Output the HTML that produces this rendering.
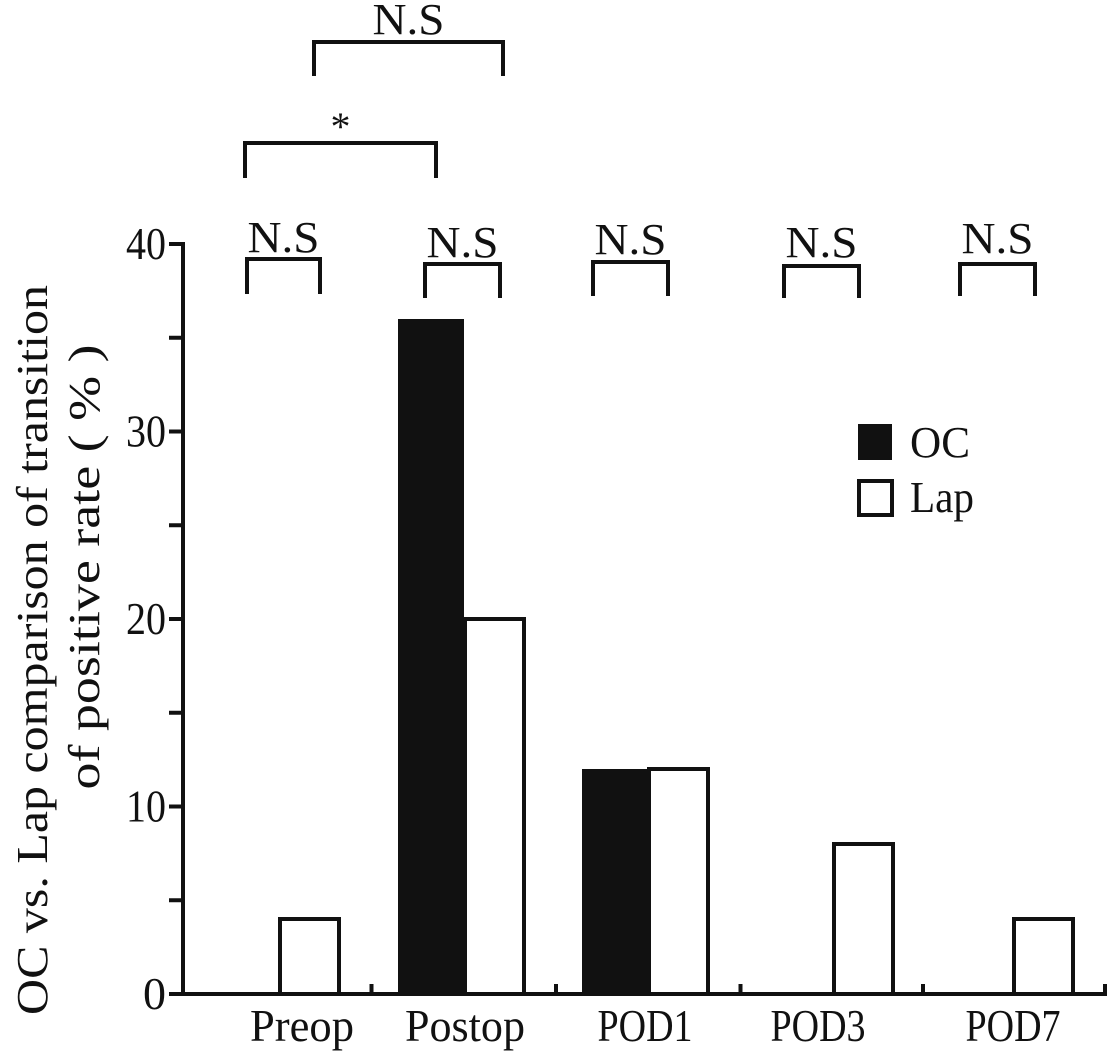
<!DOCTYPE html>
<html><head><meta charset="utf-8"><style>
html,body{margin:0;padding:0;background:#fff;}
svg{display:block;}
text{font-family:"Liberation Serif",serif;fill:#111;}
</style></head><body>
<svg id="chart" width="1110" height="1064" viewBox="0 0 1110 1064">
<g id="axes"></g>
<g id="bars"></g>
<g id="sig"></g>
<g>
<text transform="translate(47,650) rotate(-90)" text-anchor="middle" font-size="44" textLength="730" lengthAdjust="spacingAndGlyphs">OC vs. Lap comparison of transition</text>
<text transform="translate(99,567) rotate(-90)" text-anchor="middle" font-size="44" textLength="445" lengthAdjust="spacingAndGlyphs">of positive rate ( % )</text>
</g>
<g>
<rect x="858" y="424" width="34" height="36" fill="#111"/>
<text x="910" y="457" font-size="44" textLength="60" lengthAdjust="spacingAndGlyphs">OC</text>
<rect x="859" y="481" width="33" height="34" fill="#fff" stroke="#111" stroke-width="4"/>
<text x="910" y="512" font-size="44" textLength="64" lengthAdjust="spacingAndGlyphs">Lap</text>
</g>
</svg>
<script>
const categories = ["Preop","Postop","POD1","POD3","POD7"];
const ocValues = [0,36,12,0,0];
const lapValues = [4,20,12,8,4];
const yTicks = [0,10,20,30,40];
const yMinorTicks = [5,15,25,35];

const NS='http://www.w3.org/2000/svg';
const x0=183, xEnd=1105, yBase=994, yTop=244, yMax=40;
const centers=[279,464,648,833,1013];
const labelOffsets=[23,1,-3,-15,0];
const labelWidths=[104,120,95,95,95];
function y(v){return yBase-(v/yMax)*(yBase-yTop);}
function xc(i){return centers[i];}
function mk(tag,attrs,parent){const e=document.createElementNS(NS,tag);for(const k in attrs)e.setAttribute(k,attrs[k]);parent.appendChild(e);return e;}
const axes=document.getElementById('axes'), bars=document.getElementById('bars'), sig=document.getElementById('sig');

let e=mk('line',{x1:x0,y1:yTop-2,x2:x0,y2:yBase+2,stroke:'#111','stroke-width':4},axes);


e=mk('line',{x1:x0-2,y1:yBase,x2:xEnd+2,y2:yBase,stroke:'#111','stroke-width':4},axes);


yTicks.forEach(v=>{
  const t=mk('line',{x1:x0-14,y1:y(v),x2:x0,y2:y(v),stroke:'#111','stroke-width':4},axes);
  
  
  const attrs={x:166,y:y(v)+15,'text-anchor':'end','font-size':46};
  if(String(v).length>1){attrs.textLength=40;attrs.lengthAdjust='spacingAndGlyphs';}
  const l=mk('text',attrs,axes);
  l.textContent=v;
  
  
});
yMinorTicks.forEach(v=>{
  const t=mk('line',{x1:x0-14,y1:y(v),x2:x0,y2:y(v),stroke:'#111','stroke-width':4},axes);
  
  
});
categories.forEach((c,i)=>{
  const tx = i<categories.length-1 ? (xc(i)+xc(i+1))/2 : xEnd;
  const t=mk('line',{x1:tx,y1:yBase-10,x2:tx,y2:yBase,stroke:'#111','stroke-width':4},axes);
  
  
  const l=mk('text',{x:xc(i)+labelOffsets[i],y:1041,'text-anchor':'middle','font-size':45,textLength:labelWidths[i],lengthAdjust:'spacingAndGlyphs'},axes);
  l.textContent=c;
  
  
  if(ocValues[i]>0){
    const b=mk('rect',{x:xc(i)-66,y:y(ocValues[i]),width:66,height:yBase-y(ocValues[i]),fill:'#111'},bars);
    
    
  }
  if(lapValues[i]>0){
    const b=mk('rect',{x:xc(i)+1,y:y(lapValues[i]),width:59,height:yBase-y(lapValues[i]),fill:'#fff',stroke:'#111','stroke-width':4},bars);
    
    
  }
});
function bracket(x1,x2,yt,yb,label,ty,fs,name){
  const p=mk('path',{d:`M${x1},${yb} V${yt} H${x2} V${yb}`,fill:'none',stroke:'#111','stroke-width':4},sig);
  
  
  const attrs={x:(x1+x2)/2,y:ty,'text-anchor':'middle','font-size':fs};
  if(label!=='*'){attrs.textLength=72;attrs.lengthAdjust='spacingAndGlyphs';}
  const t=mk('text',attrs,sig);
  t.textContent=label;
  
  
}
bracket(247,320,259,294,'N.S',252,44,'bracket-preop');
bracket(425,500,264,298,'N.S',257,44,'bracket-postop');
bracket(593,668,262,296,'N.S',254,44,'bracket-pod1');
bracket(784,859,266,298,'N.S',257,44,'bracket-pod3');
bracket(960,1035,264,296,'N.S',253,44,'bracket-pod7');
bracket(314,503,42,76,'N.S',34,44,'bracket-oc-preop-postop');
bracket(245,436,143,178,'*',140,40,'bracket-lap-preop-postop');
</script>
</body></html>
